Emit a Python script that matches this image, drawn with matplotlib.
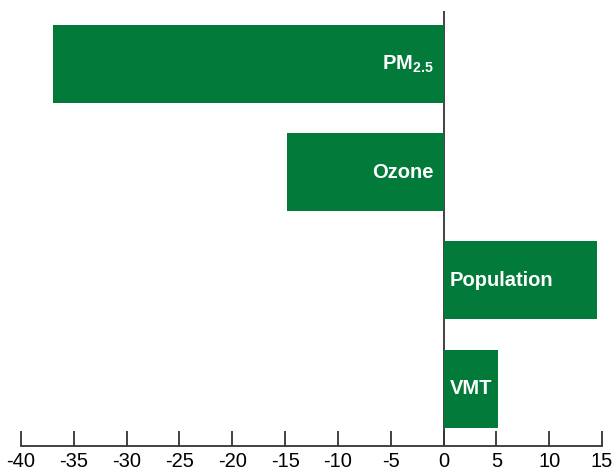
import matplotlib
matplotlib.use("Agg")
import matplotlib.pyplot as plt

plt.rcParams['font.family'] = ['Liberation Sans', 'DejaVu Sans']
plt.rcParams['mathtext.fontset'] = 'custom'
plt.rcParams['mathtext.bf'] = 'Liberation Sans:bold'
plt.rcParams['mathtext.rm'] = 'Liberation Sans'

# data
categories = [r'PM$_{\mathbf{2.5}}$', 'Ozone', 'Population', 'VMT']
values = [-37.0, -14.8, 14.5, 5.2]
xticks = list(range(-40, 16, 5))

green = '#017a3a'
dark = '#333333'

fig = plt.figure(figsize=(6.13, 4.74), dpi=100)
ax = fig.add_axes([21 / 613, 28 / 474, 581 / 613, 435 / 474])

ypos = list(range(len(values)))
ax.barh(ypos, values, height=0.72, color=green, zorder=2)

for y, v, lab in zip(ypos, values, categories):
    if v < 0:
        ax.annotate(lab, (0, y), xytext=(-7, 0), textcoords='offset points',
                    ha='right', va='center', color='white', fontsize=14.5,
                    fontweight='bold', zorder=3)
    else:
        ax.annotate(lab, (0, y), xytext=(4.5, 0), textcoords='offset points',
                    ha='left', va='center', color='white', fontsize=14.5,
                    fontweight='bold', zorder=3)

ax.axvline(0, color=dark, lw=1.3, zorder=1)

ax.set_xlim(-40, 15)
ax.set_ylim(3 + 0.53, -0.49)
ax.set_xticks(xticks)
ax.set_xticklabels([str(t) for t in xticks], fontsize=14.5)
ax.set_yticks([])
ax.tick_params(axis='x', direction='in', length=11, width=1.3, color=dark, pad=4)

for s in ['top', 'right', 'left']:
    ax.spines[s].set_visible(False)
ax.spines['bottom'].set_color(dark)
ax.spines['bottom'].set_linewidth(1.3)

fig.savefig('out.png', dpi=100)
